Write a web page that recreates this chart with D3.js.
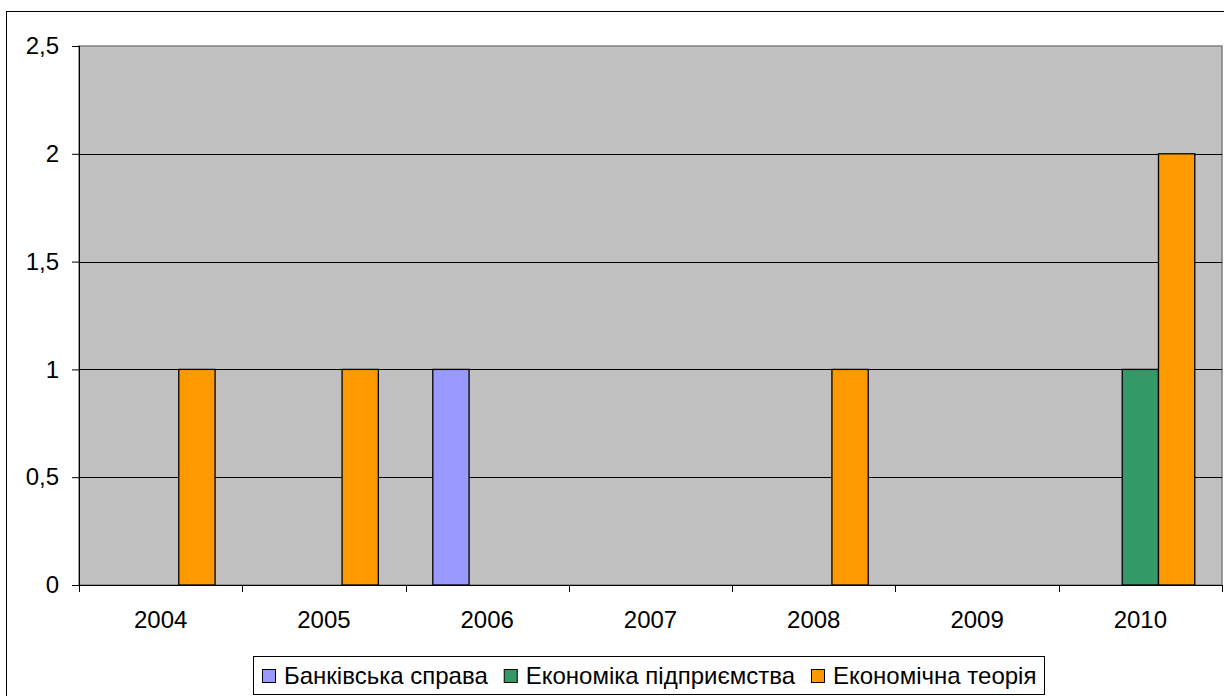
<!DOCTYPE html>
<html><head><meta charset="utf-8">
<script src="https://cdn.jsdelivr.net/npm/d3@7"></script>
<style>body{margin:0;background:#fff;}svg{display:block;font-family:"Liberation Sans",Arial,sans-serif;}</style>
</head><body>
<svg id="c" width="1224" height="696"></svg>
<script>
const categories = ["2004","2005","2006","2007","2008","2009","2010"];
const seriesNames = ["Банківська справа","Економіка підприємства","Економічна теорія"];
const bankivska = [0,0,1,0,0,0,0];
const ekonomika = [0,0,0,0,0,0,1];
const teoriya   = [1,1,0,0,1,0,2];
const yTicks = [0,0.5,1,1.5,2,2.5];
const colors = ["#9999FF","#339966","#FF9900"];

const series = [bankivska, ekonomika, teoriya];
const svg = d3.select("#c");
const L=79, R=1222, T=46, B=585;
const FS = 24;

svg.append("rect").attr("x",6.5).attr("y",11.5).attr("width",1230).attr("height",700)
  .attr("fill","#fff").attr("stroke","#000").attr("stroke-width",1);

const x = d3.scaleBand().domain(categories).range([L,R]).paddingInner(0).paddingOuter(0);
const y = d3.scaleLinear().domain([0,2.5]).range([B,T]);
const bw = x.bandwidth()/4.5;
const x1 = d3.scaleBand().domain(d3.range(3)).range([bw*0.75, x.bandwidth()-bw*0.75]).padding(0);

svg.append("rect").attr("x",L).attr("y",T).attr("width",R-L).attr("height",B-T)
  .attr("fill","#C0C0C0").attr("stroke","#808080").attr("stroke-width",1.5);

// gridlines
svg.append("g").selectAll("line").data(yTicks.filter(d=>d>0&&d<2.5)).join("line")
  .attr("x1",L).attr("x2",R).attr("y1",d=>Math.round(y(d))+0.5).attr("y2",d=>Math.round(y(d))+0.5)
  .attr("stroke","#000").attr("stroke-width",1);

// bars
const g = svg.append("g");
categories.forEach((c,i)=>{
  series.forEach((s,k)=>{
    if(s[i]>0){
      g.append("rect").attr("x",x(c)+x1(k)).attr("y",y(s[i]))
        .attr("width",x1.bandwidth()).attr("height",y(0)-y(s[i]))
        .attr("fill",colors[k]).attr("stroke","#000").attr("stroke-width",1.3);
    }
  });
});

// y axis
const ya = d3.axisLeft(y).tickValues(yTicks).tickSize(7).tickPadding(13)
  .tickFormat(d=>String(d).replace(".",","));
const yg = svg.append("g").attr("transform",`translate(${L},0)`).call(ya);
yg.attr("font-size",FS).attr("font-family","Liberation Sans, Arial, sans-serif");
yg.select(".domain").attr("stroke","#000").attr("d",`M0.5,${T}V${B}`);
yg.selectAll(".tick line").attr("stroke","#000");
yg.selectAll("text").attr("fill","#000");

// x axis
const xg = svg.append("g").attr("transform",`translate(0,${B})`);
xg.append("line").attr("x1",L).attr("x2",R).attr("y1",0.5).attr("y2",0.5).attr("stroke","#000");
const bounds = categories.map(c=>x(c)).concat([R]);
xg.selectAll("line.t").data(bounds).join("line").attr("class","t")
  .attr("x1",d=>Math.round(d)+0.5).attr("x2",d=>Math.round(d)+0.5).attr("y1",0).attr("y2",7).attr("stroke","#000");
xg.selectAll("text").data(categories).join("text")
  .attr("x",d=>x(d)+x.bandwidth()/2).attr("y",43).attr("text-anchor","middle")
  .attr("font-size",FS).attr("fill","#000").text(d=>d);

// legend
const lg = svg.append("g");
lg.append("rect").attr("x",253.5).attr("y",656.5).attr("width",791).attr("height",38)
  .attr("fill","#fff").attr("stroke","#000").attr("stroke-width",1);
let lx = 262;
seriesNames.forEach((n,k)=>{
  lg.append("rect").attr("x",lx+0.5).attr("y",669.5).attr("width",13).attr("height",13)
    .attr("fill",colors[k]).attr("stroke","#000").attr("stroke-width",1);
  const t = lg.append("text").attr("x",lx+22).attr("y",684).attr("font-size",FS).attr("fill","#000").text(n);
  lx += 22 + t.node().getComputedTextLength() + 16;
});
</script>
</body></html>
